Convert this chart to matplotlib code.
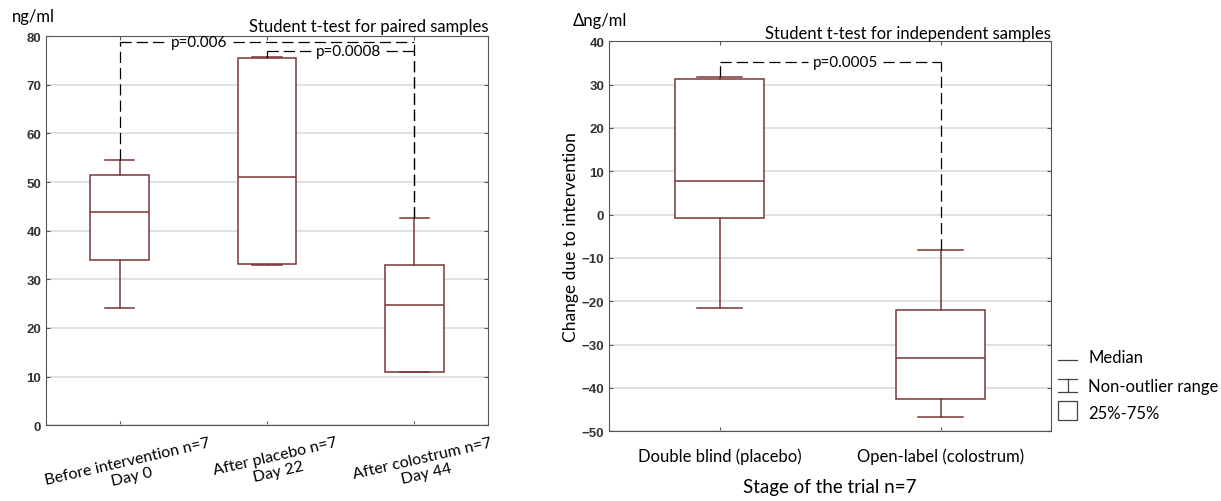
import matplotlib
matplotlib.use('Agg')
import matplotlib.pyplot as plt
import matplotlib.transforms as mtransforms
from matplotlib.lines import Line2D
from matplotlib.patches import Rectangle

# left panel: paired samples (ng/ml)
left_labels = ["Before intervention n=7\nDay 0", "After placebo n=7\nDay 22", "After colostrum n=7\nDay 44"]
left_wlo = [24.0, 33.0, 11.0]
left_q1 = [34.0, 33.2, 11.0]
left_med = [43.8, 51.0, 24.8]
left_q3 = [51.4, 75.6, 33.0]
left_whi = [54.6, 75.8, 42.7]

# right panel: change due to intervention (delta ng/ml)
right_labels = ["Double blind (placebo)", "Open-label (colostrum)"]
right_wlo = [-21.5, -46.8]
right_q1 = [-0.8, -42.5]
right_med = [7.8, -33.0]
right_q3 = [31.3, -22.0]
right_whi = [31.8, -8.3]

# p-value brackets: (from, to, height, label, gap start, gap end)
left_brackets = [(1, 3, 78.7, "p=0.006", 1.31, 1.77), (2, 3, 77.0, "p=0.0008", 2.30, 2.81)]
right_brackets = [(1, 2, 35.3, "p=0.0005", 1.40, 1.74)]

BOX = '#7a3535'
TXT = 'Lato'


def stats(wlo, q1, med, q3, whi):
    return [dict(whislo=a, q1=b, med=c, q3=d, whishi=e, fliers=[])
            for a, b, c, d, e in zip(wlo, q1, med, q3, whi)]


def draw(ax, st, ylim, yticks):
    ax.bxp(st, positions=range(1, len(st) + 1), widths=0.4, capwidths=0.2,
           showfliers=False, patch_artist=True,
           boxprops=dict(facecolor='white', edgecolor=BOX, linewidth=1.1),
           medianprops=dict(color=BOX, linewidth=1.1),
           whiskerprops=dict(color=BOX, linewidth=1.1),
           capprops=dict(color=BOX, linewidth=1.1))
    ax.set_xlim(0.5, len(st) + 0.5)
    ax.set_ylim(*ylim)
    ax.set_yticks(yticks)
    ax.grid(axis='y', color='#d8d8d8', linewidth=1.1)
    ax.set_axisbelow(True)
    ax.tick_params(direction='in', top=True, right=True, length=3, color='#555555',
                   labelsize=9.5)
    for lab in ax.get_yticklabels():
        lab.set_fontfamily('Liberation Sans')
        lab.set_fontweight('bold')
        lab.set_color('#333333')
    for s in ax.spines.values():
        s.set_color('#555555')


def bracket(ax, x0, x1, y, label, g0, g1, tops):
    kw = dict(color='black', linewidth=0.9, linestyle=(0, (9, 4)))
    ax.plot([x0, x0], [tops[x0 - 1], y], **kw)
    ax.plot([x1, x1], [tops[x1 - 1], y], **kw)
    ax.plot([x0, g0], [y, y], **kw)
    ax.plot([g1, x1], [y, y], **kw)
    ax.text((g0 + g1) / 2, y, label, ha='center', va='center', fontsize=11, family=TXT)


fig = plt.figure(figsize=(12.21, 5.02), dpi=100)

ax1 = fig.add_axes([0.0377, 0.151, 0.362, 0.775])
draw(ax1, stats(left_wlo, left_q1, left_med, left_q3, left_whi), (0, 80), range(0, 81, 10))
ax1.set_xticks([1, 2, 3])
ax1.set_xticklabels(left_labels, rotation=13, family=TXT, fontsize=11.5, ha='center',
                    linespacing=1.2)
ax1.tick_params(axis='x', pad=7)
shift = mtransforms.ScaledTranslation(10 / 100, 0, fig.dpi_scale_trans)
for lab in ax1.get_xticklabels():
    lab.set_transform(lab.get_transform() + shift)
for x0, x1, y, lab, g0, g1 in left_brackets:
    bracket(ax1, x0, x1, y, lab, g0, g1, left_whi)
ax1.text(1.0, 1.005, "Student t-test for paired samples", transform=ax1.transAxes,
         ha='right', va='bottom', family=TXT, fontsize=12)
ax1.text(-0.077, 1.03, "ng/ml", transform=ax1.transAxes, ha='left', va='bottom',
         family=TXT, fontsize=12)

ax2 = fig.add_axes([0.4988, 0.139, 0.362, 0.777])
draw(ax2, stats(right_wlo, right_q1, right_med, right_q3, right_whi), (-50, 40), range(-50, 41, 10))
ax2.set_xticks([1, 2])
ax2.set_xticklabels(right_labels, family=TXT, fontsize=12)
ax2.tick_params(axis='x', pad=12)
for x0, x1, y, lab, g0, g1 in right_brackets:
    bracket(ax2, x0, x1, y, lab, g0, g1, right_whi)
ax2.text(1.0, 1.0, "Student t-test for independent samples", transform=ax2.transAxes,
         ha='right', va='bottom', family=TXT, fontsize=12)
ax2.text(-0.082, 1.035, "\u0394ng/ml", transform=ax2.transAxes, ha='left', va='bottom',
         family=TXT, fontsize=12)
ax2.set_ylabel("Change due to intervention", family=TXT, fontsize=12.5, labelpad=2)
ax2.set_xlabel("Stage of the trial n=7", family=TXT, fontsize=13.5, labelpad=10)

# legend drawn at the right of the second panel
lx0, lx1 = 1058 / 1221, 1077 / 1221
def fy(py):
    return 1 - py / 502
lc = dict(color='#444444', linewidth=0.9)
fig.add_artist(Line2D([lx0, lx1], [fy(361), fy(361)], **lc))
cx = (lx0 + lx1) / 2
fig.add_artist(Line2D([cx, cx], [fy(380), fy(393)], **lc))
fig.add_artist(Line2D([lx0, lx1], [fy(380), fy(380)], **lc))
fig.add_artist(Line2D([lx0, lx1], [fy(393), fy(393)], **lc))
fig.add_artist(Rectangle((lx0, fy(421)), lx1 - lx0, 19 / 502, transform=fig.transFigure,
                         facecolor='white', edgecolor='#444444', linewidth=0.9))
for py, lab in [(358, "Median"), (387, "Non-outlier range"), (414, "25%-75%")]:
    fig.text(1088 / 1221, fy(py), lab, ha='left', va='center', family=TXT, fontsize=12)

fig.savefig('out.png', dpi=100, facecolor='white')
